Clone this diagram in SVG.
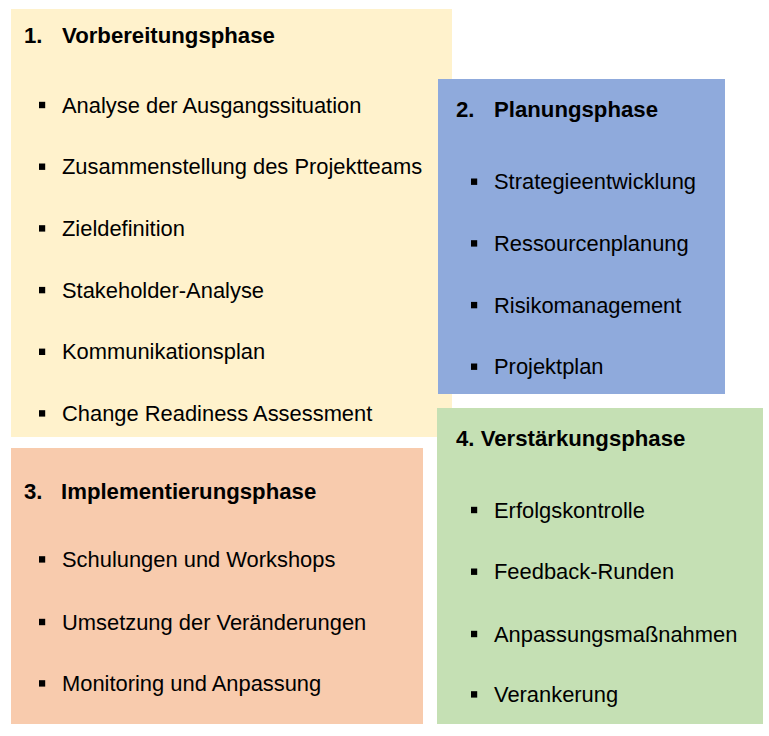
<svg xmlns="http://www.w3.org/2000/svg" width="769" height="736" viewBox="0 0 769 736">
<style>
text{font-family:"Liberation Sans",Arial,sans-serif;font-size:21.9px;fill:#000}
.t{font-weight:bold;font-size:22.2px}
.b{fill:#000}
</style>
<defs><rect id="bl" width="6.2" height="6.4" class="b"/></defs>
<rect width="769" height="736" fill="#fff"/>
<g id="phase1">
<rect x="11" y="9" width="441" height="428" fill="#FFF2CC"/>
<text class="t" x="24" y="43.3">1.</text>
<text class="t" x="62" y="43.3">Vorbereitungsphase</text>
<use href="#bl" x="39" y="101.8"/><text x="62" y="112.6">Analyse der Ausgangssituation</text>
<use href="#bl" x="39" y="163.5"/><text x="62" y="174.3">Zusammenstellung des Projektteams</text>
<use href="#bl" x="39" y="225.2"/><text x="62" y="236">Zieldefinition</text>
<use href="#bl" x="39" y="286.9"/><text x="62" y="297.7">Stakeholder-Analyse</text>
<use href="#bl" x="39" y="348.6"/><text x="62" y="359.4">Kommunikationsplan</text>
<use href="#bl" x="39" y="410.2"/><text x="62" y="421">Change Readiness Assessment</text>
</g>
<g id="phase2">
<rect x="438" y="79" width="287" height="315" fill="#8FAADC"/>
<text class="t" x="456" y="117">2.</text>
<text class="t" x="494" y="117">Planungsphase</text>
<use href="#bl" x="471" y="178.5"/><text x="494" y="189.3">Strategieentwicklung</text>
<use href="#bl" x="471" y="240.2"/><text x="494" y="251">Ressourcenplanung</text>
<use href="#bl" x="471" y="301.9"/><text x="494" y="312.7">Risikomanagement</text>
<use href="#bl" x="471" y="363.5"/><text x="494" y="374.3">Projektplan</text>
</g>
<g id="phase3">
<rect x="11" y="448" width="412" height="276" fill="#F8CBAD"/>
<text class="t" x="24" y="498.6">3.</text>
<text class="t" x="61" y="498.6">Implementierungsphase</text>
<use href="#bl" x="39" y="556.2"/><text x="62" y="567">Schulungen und Workshops</text>
<use href="#bl" x="39" y="618.8"/><text x="62" y="629.6">Umsetzung der Veränderungen</text>
<use href="#bl" x="39" y="680.2"/><text x="62" y="691">Monitoring und Anpassung</text>
</g>
<g id="phase4">
<rect x="437" y="408" width="326" height="316" fill="#C5E0B4"/>
<text class="t" x="456" y="446.3">4. Verstärkungsphase</text>
<use href="#bl" x="471" y="506.8"/><text x="494" y="517.6">Erfolgskontrolle</text>
<use href="#bl" x="471" y="568.5"/><text x="494" y="579.3">Feedback-Runden</text>
<use href="#bl" x="471" y="630.8"/><text x="494" y="641.6">Anpassungsmaßnahmen</text>
<use href="#bl" x="471" y="691.2"/><text x="494" y="702">Verankerung</text>
</g>
<g id="connectors"/>
</svg>
